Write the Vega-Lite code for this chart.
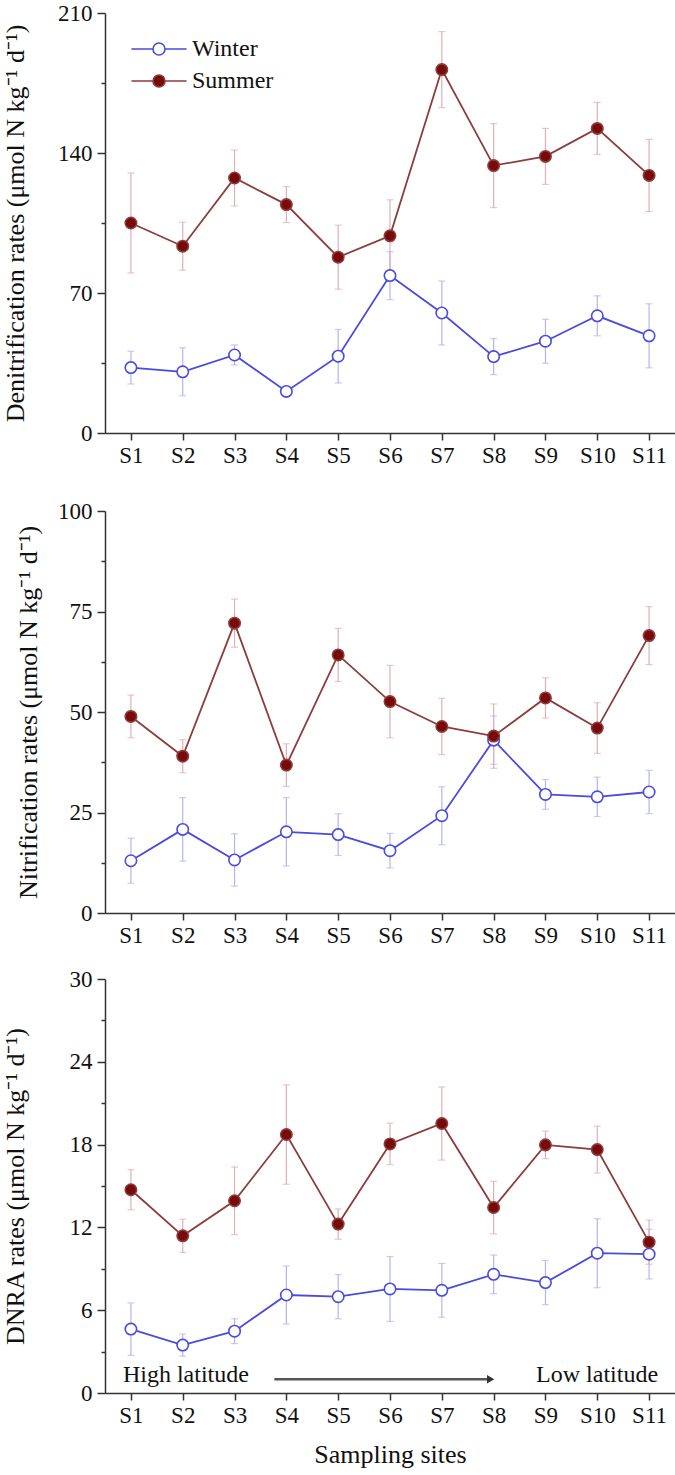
{
  "$schema": "https://vega.github.io/schema/vega-lite/v6.json",
  "padding": {"left": 1, "top": 2, "right": 0, "bottom": 2},
  "background": "white",
  "bounds": "flush",
  "spacing": 78,
  "datasets": {
    "rates": [
      {"p":"D","site":"S1","season":"Winter","v":32.7,"e":8.2},
      {"p":"D","site":"S2","season":"Winter","v":30.6,"e":12},
      {"p":"D","site":"S3","season":"Winter","v":39.0,"e":5},
      {"p":"D","site":"S4","season":"Winter","v":20.8,"e":2.5},
      {"p":"D","site":"S5","season":"Winter","v":38.4,"e":13.4},
      {"p":"D","site":"S6","season":"Winter","v":78.7,"e":12},
      {"p":"D","site":"S7","season":"Winter","v":60.0,"e":16},
      {"p":"D","site":"S8","season":"Winter","v":38.2,"e":9},
      {"p":"D","site":"S9","season":"Winter","v":45.9,"e":11},
      {"p":"D","site":"S10","season":"Winter","v":58.6,"e":10},
      {"p":"D","site":"S11","season":"Winter","v":48.6,"e":16},
      {"p":"D","site":"S1","season":"Summer","v":105.0,"e":25},
      {"p":"D","site":"S2","season":"Summer","v":93.4,"e":12},
      {"p":"D","site":"S3","season":"Summer","v":127.5,"e":14},
      {"p":"D","site":"S4","season":"Summer","v":114.2,"e":9},
      {"p":"D","site":"S5","season":"Summer","v":87.9,"e":16},
      {"p":"D","site":"S6","season":"Summer","v":98.6,"e":18},
      {"p":"D","site":"S7","season":"Summer","v":181.7,"e":19},
      {"p":"D","site":"S8","season":"Summer","v":133.7,"e":21},
      {"p":"D","site":"S9","season":"Summer","v":138.3,"e":14},
      {"p":"D","site":"S10","season":"Summer","v":152.3,"e":13},
      {"p":"D","site":"S11","season":"Summer","v":128.8,"e":18},
      {"p":"N","site":"S1","season":"Winter","v":13.0,"e":5.6},
      {"p":"N","site":"S2","season":"Winter","v":20.8,"e":7.9},
      {"p":"N","site":"S3","season":"Winter","v":13.2,"e":6.5},
      {"p":"N","site":"S4","season":"Winter","v":20.2,"e":8.5},
      {"p":"N","site":"S5","season":"Winter","v":19.5,"e":5.2},
      {"p":"N","site":"S6","season":"Winter","v":15.5,"e":4.3},
      {"p":"N","site":"S7","season":"Winter","v":24.2,"e":7.2},
      {"p":"N","site":"S8","season":"Winter","v":43.0,"e":6},
      {"p":"N","site":"S9","season":"Winter","v":29.5,"e":3.7},
      {"p":"N","site":"S10","season":"Winter","v":28.9,"e":4.9},
      {"p":"N","site":"S11","season":"Winter","v":30.1,"e":5.4},
      {"p":"N","site":"S1","season":"Summer","v":48.9,"e":5.3},
      {"p":"N","site":"S2","season":"Summer","v":39.0,"e":4.1},
      {"p":"N","site":"S3","season":"Summer","v":72.1,"e":6},
      {"p":"N","site":"S4","season":"Summer","v":36.8,"e":5.3},
      {"p":"N","site":"S5","season":"Summer","v":64.2,"e":6.6},
      {"p":"N","site":"S6","season":"Summer","v":52.6,"e":9},
      {"p":"N","site":"S7","season":"Summer","v":46.4,"e":7},
      {"p":"N","site":"S8","season":"Summer","v":44.0,"e":8},
      {"p":"N","site":"S9","season":"Summer","v":53.5,"e":5},
      {"p":"N","site":"S10","season":"Summer","v":46.0,"e":6.3},
      {"p":"N","site":"S11","season":"Summer","v":69.0,"e":7.2},
      {"p":"R","site":"S1","season":"Winter","v":4.63,"e":1.9},
      {"p":"R","site":"S2","season":"Winter","v":3.47,"e":0.8},
      {"p":"R","site":"S3","season":"Winter","v":4.48,"e":0.9},
      {"p":"R","site":"S4","season":"Winter","v":7.1,"e":2.1},
      {"p":"R","site":"S5","season":"Winter","v":6.98,"e":1.6},
      {"p":"R","site":"S6","season":"Winter","v":7.54,"e":2.35},
      {"p":"R","site":"S7","season":"Winter","v":7.44,"e":1.95},
      {"p":"R","site":"S8","season":"Winter","v":8.6,"e":1.4},
      {"p":"R","site":"S9","season":"Winter","v":8.0,"e":1.6},
      {"p":"R","site":"S10","season":"Winter","v":10.13,"e":2.5},
      {"p":"R","site":"S11","season":"Winter","v":10.06,"e":1.8},
      {"p":"R","site":"S1","season":"Summer","v":14.73,"e":1.45},
      {"p":"R","site":"S2","season":"Summer","v":11.39,"e":1.2},
      {"p":"R","site":"S3","season":"Summer","v":13.93,"e":2.45},
      {"p":"R","site":"S4","season":"Summer","v":18.73,"e":3.6},
      {"p":"R","site":"S5","season":"Summer","v":12.24,"e":1.1},
      {"p":"R","site":"S6","season":"Summer","v":18.05,"e":1.5},
      {"p":"R","site":"S7","season":"Summer","v":19.53,"e":2.65},
      {"p":"R","site":"S8","season":"Summer","v":13.44,"e":1.9},
      {"p":"R","site":"S9","season":"Summer","v":17.98,"e":1.0},
      {"p":"R","site":"S10","season":"Summer","v":17.64,"e":1.7},
      {"p":"R","site":"S11","season":"Summer","v":10.93,"e":1.6}
    ]
  },
  "resolve": {"scale": {"color": "independent", "stroke": "independent", "fill": "independent"}},
  "vconcat": [
    {
      "width": 570,
      "height": 420,
      "data": {"name": "rates"},
      "transform": [{"filter": "datum.p === 'D'"}],
      "encoding": {
        "x": {"field": "site", "type": "nominal", "scale": {"type": "point", "padding": 0.5, "domain": ["S1","S2","S3","S4","S5","S6","S7","S8","S9","S10","S11"]}, "axis": {"title": null, "labelAngle": 0, "labelPadding": 4}},
        "y": {"field": "v", "type": "quantitative", "scale": {"domain": [0, 210], "nice": false},
          "title": "Denitrification rates (μmol N kg⁻¹ d⁻¹)",
          "axis": {"values": [0,35,70,105,140,175,210], "labelExpr": "datum.value % 70 === 0 ? datum.label : ''", "tickSize": {"condition": {"test": "datum.value % 70 === 0", "value": 8}, "value": 4}, "labelOverlap": false, "labelPadding": 5, "titleX": -77}}
      },
      "layer": [
        {"mark": {"type": "errorbar", "ticks": {"size": 7}, "thickness": 1.2},
         "encoding": {"yError": {"field": "e"}, "color": {"field": "season", "type": "nominal", "scale": {"domain": ["Summer","Winter"], "range": ["#dcb0b6", "#b4b4f2"]}, "legend": null}}},
        {"mark": {"type": "line", "strokeWidth": 1.8},
         "encoding": {"order": {"value": null}, "stroke": {"field": "season", "type": "nominal", "scale": {"domain": ["Winter","Summer"], "range": ["#4a4ae0", "#8c3c3c"]}}}},
        {"mark": {"type": "point", "filled": true, "shape": "circle", "size": 130, "strokeWidth": 1.6, "opacity": 1},
         "encoding": {
           "stroke": {"field": "season", "type": "nominal", "scale": {"domain": ["Winter","Summer"], "range": ["#4a4ae0", "#8c3c3c"]}},
           "fill": {"field": "season", "type": "nominal", "scale": {"domain": ["Winter","Summer"], "range": ["#ffffff", "#780a0a"]}}
         }}
      ]
    },
    {
      "bounds": "flush",
      "spacing": 66,
      "vconcat": [
        {
          "width": 570,
          "height": 402,
          "data": {"name": "rates"},
          "transform": [{"filter": "datum.p === 'N'"}],
          "encoding": {
            "x": {"field": "site", "type": "nominal", "scale": {"type": "point", "padding": 0.5, "domain": ["S1","S2","S3","S4","S5","S6","S7","S8","S9","S10","S11"]}, "axis": {"title": null, "labelAngle": 0, "labelPadding": 4}},
            "y": {"field": "v", "type": "quantitative", "scale": {"domain": [0, 100], "nice": false},
              "title": "Nitrification rates (μmol N kg⁻¹ d⁻¹)",
              "axis": {"values": [0,12.5,25,37.5,50,62.5,75,87.5,100], "labelExpr": "datum.value % 25 === 0 ? datum.label : ''", "tickSize": {"condition": {"test": "datum.value % 25 === 0", "value": 8}, "value": 4}, "labelOverlap": false, "labelPadding": 5, "titleX": -64}}
          },
          "layer": [
            {"mark": {"type": "errorbar", "ticks": {"size": 7}, "thickness": 1.2},
             "encoding": {"yError": {"field": "e"}, "color": {"field": "season", "type": "nominal", "scale": {"domain": ["Winter","Summer"], "range": ["#b4b4f2", "#dcb0b6"]}, "legend": null}}},
            {"mark": {"type": "line", "strokeWidth": 1.8},
             "encoding": {"order": {"value": null}, "stroke": {"field": "season", "type": "nominal", "scale": {"domain": ["Winter","Summer"], "range": ["#4a4ae0", "#8c3c3c"]}, "legend": null}}},
            {"mark": {"type": "point", "filled": true, "shape": "circle", "size": 130, "strokeWidth": 1.6, "opacity": 1},
             "encoding": {
               "stroke": {"field": "season", "type": "nominal", "scale": {"domain": ["Winter","Summer"], "range": ["#4a4ae0", "#8c3c3c"]}, "legend": null},
               "fill": {"field": "season", "type": "nominal", "scale": {"domain": ["Winter","Summer"], "range": ["#ffffff", "#780a0a"]}, "legend": null}
             }}
          ]
        },
        {
          "width": 570,
          "height": 414,
          "data": {"name": "rates"},
          "transform": [{"filter": "datum.p === 'R'"}],
          "encoding": {
            "x": {"field": "site", "type": "nominal", "scale": {"type": "point", "padding": 0.5, "domain": ["S1","S2","S3","S4","S5","S6","S7","S8","S9","S10","S11"]}, "axis": {"title": "Sampling sites", "labelAngle": 0, "labelPadding": 4, "titlePadding": 14}},
            "y": {"field": "v", "type": "quantitative", "scale": {"domain": [0, 30], "nice": false},
              "title": "DNRA rates (μmol N kg⁻¹ d⁻¹)",
              "axis": {"values": [0,3,6,9,12,15,18,21,24,27,30], "labelExpr": "datum.value % 6 === 0 ? datum.label : ''", "tickSize": {"condition": {"test": "datum.value % 6 === 0", "value": 8}, "value": 4}, "labelOverlap": false, "labelPadding": 5, "titleX": -77}}
          },
          "layer": [
            {"mark": {"type": "errorbar", "ticks": {"size": 7}, "thickness": 1.2},
             "encoding": {"yError": {"field": "e"}, "color": {"field": "season", "type": "nominal", "scale": {"domain": ["Winter","Summer"], "range": ["#b4b4f2", "#dcb0b6"]}, "legend": null}}},
            {"mark": {"type": "line", "strokeWidth": 1.8},
             "encoding": {"order": {"value": null}, "stroke": {"field": "season", "type": "nominal", "scale": {"domain": ["Winter","Summer"], "range": ["#4a4ae0", "#8c3c3c"]}, "legend": null}}},
            {"mark": {"type": "point", "filled": true, "shape": "circle", "size": 130, "strokeWidth": 1.6, "opacity": 1},
             "encoding": {
               "stroke": {"field": "season", "type": "nominal", "scale": {"domain": ["Winter","Summer"], "range": ["#4a4ae0", "#8c3c3c"]}, "legend": null},
               "fill": {"field": "season", "type": "nominal", "scale": {"domain": ["Winter","Summer"], "range": ["#ffffff", "#780a0a"]}, "legend": null}
             }},
            {"data": {"values": [{"site": "S4", "to": "S8", "v": 1.0}]},
             "mark": {"type": "rule", "color": "#555555", "strokeWidth": 2.6, "xOffset": -12, "x2Offset": -5},
             "encoding": {"x2": {"field": "to"}}},
            {"data": {"values": [{"site": "S8", "v": 1.0}]},
             "mark": {"type": "point", "shape": "triangle-right", "filled": true, "color": "#333333", "size": 70, "opacity": 1, "xOffset": -3},
             "encoding": {}},
            {"data": {"values": [{"site": "S1", "v": 1.3, "label": "High latitude"}]},
             "mark": {"type": "text", "align": "left", "baseline": "middle", "dx": -8, "fontSize": 24, "font": "Liberation Serif", "color": "#111111"},
             "encoding": {"text": {"field": "label"}}},
            {"data": {"values": [{"site": "S11", "v": 1.3, "label": "Low latitude"}]},
             "mark": {"type": "text", "align": "right", "baseline": "middle", "dx": 9, "fontSize": 24, "font": "Liberation Serif", "color": "#111111"},
             "encoding": {"text": {"field": "label"}}}
          ]
        }
      ]
    }
  ],
  "config": {
    "view": {"stroke": null},
    "font": "Liberation Serif",
    "axis": {"labelFont": "Liberation Serif", "titleFont": "Liberation Serif", "labelFontSize": 23, "titleFontSize": 26, "titleFontWeight": "normal", "labelColor": "#111111", "titleColor": "#111111", "domainColor": "#333333", "tickColor": "#333333", "domainWidth": 1.5, "tickWidth": 1.5, "grid": false, "tickSize": 7},
    "legend": {"title": null, "orient": "none", "legendX": 42, "legendY": 24, "symbolType": "M-4.6,0L-1,0M1,0L4.6,0M1,0A1,1,0,1,1,-1,0A1,1,0,1,1,1,0Z", "symbolSize": 144, "labelFont": "Liberation Serif", "labelFontSize": 24, "labelColor": "#111111", "labelOffset": 21, "rowPadding": 8, "padding": 0, "symbolStrokeWidth": 1.6}
  }
}
